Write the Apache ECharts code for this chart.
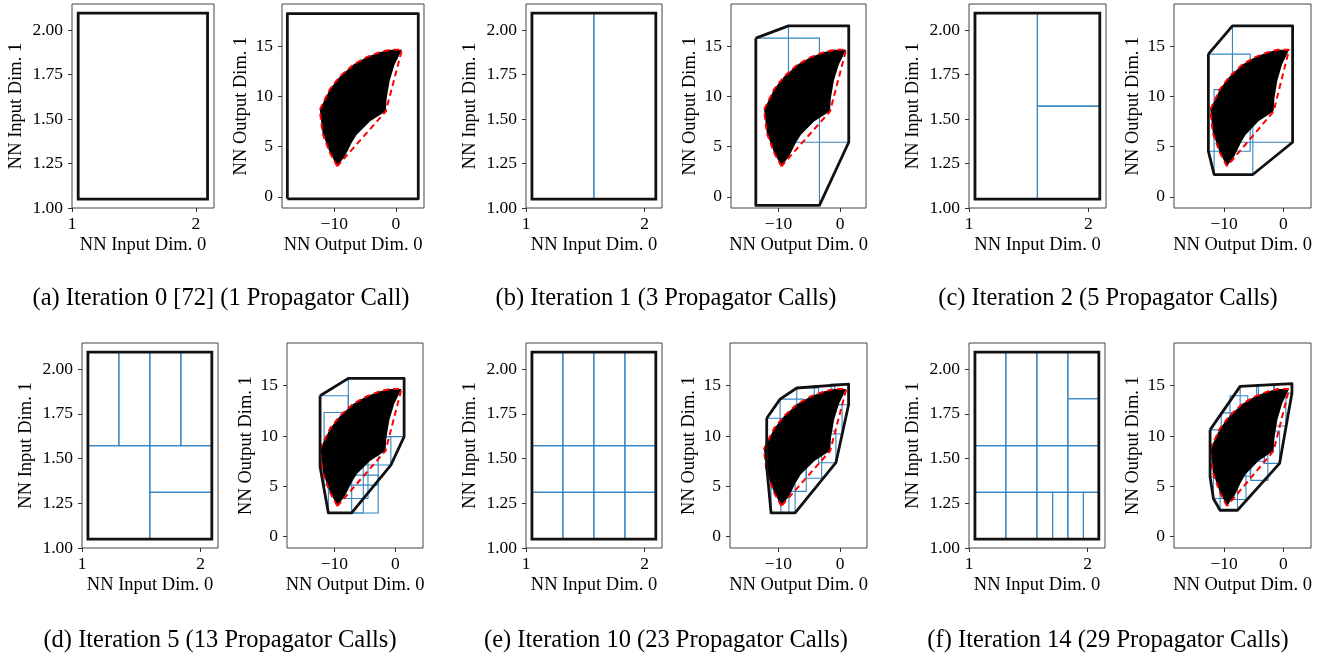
<!DOCTYPE html>
<html>
<head>
<meta charset="utf-8">
<script src="https://cdn.jsdelivr.net/npm/echarts@6/dist/echarts.min.js"></script>
<style>
  html, body { margin: 0; padding: 0; background: #fff; }
  #chart { width: 1329px; height: 658px; }
</style>
</head>
<body>
<div id="chart"></div>
<script>
// sampled NN outputs (drawn as a filled region) and their hull (red dashed)
const sampleCloud = [
  [-9.51, 3.05], [-10.7, 4.38], [-11.9, 6.37], [-12.34, 8.7], [-10.7, 10.75], [-9.08, 12.0],
  [-6.9, 13.2], [-4.73, 13.94], [-2.55, 14.44], [-0.92, 14.67], [0.98, 14.67], [-0.2, 13.2],
  [-1.0, 11.6], [-1.5, 9.8], [-1.63, 8.53], [-4.18, 7.53], [-6.36, 6.2], [-7.17, 5.38], [-8.26, 4.05]
];
const sampleHull = [
  [-9.51, 3.05], [-10.7, 4.38], [-11.9, 6.37], [-12.34, 8.7], [-10.7, 10.75], [-9.08, 12.0],
  [-6.9, 13.2], [-4.73, 13.94], [-2.55, 14.44], [-0.92, 14.67], [0.98, 14.67], [-1.63, 8.53]
];

// input set (black) and input partitions [x0, x1, y0, y1]
const inputDomain = [[1.05, 2.095, 1.05, 2.095]];
const inCellsA = [];
const inCellsB = [[1.05, 1.5725, 1.05, 2.095], [1.5725, 2.095, 1.05, 2.095]];
const inCellsC = [[1.05, 1.5725, 1.05, 2.095], [1.5725, 2.095, 1.5725, 2.095], [1.5725, 2.095, 1.05, 1.5725]];
const inCellsD = [
  [1.05, 1.311, 1.5725, 2.095], [1.311, 1.5725, 1.5725, 2.095], [1.5725, 1.834, 1.5725, 2.095], [1.834, 2.095, 1.5725, 2.095],
  [1.05, 1.5725, 1.05, 1.5725], [1.5725, 2.095, 1.311, 1.5725], [1.5725, 2.095, 1.05, 1.311]
];
const inCellsE = [
  [1.05, 1.311, 1.05, 1.311], [1.311, 1.5725, 1.05, 1.311], [1.5725, 1.834, 1.05, 1.311], [1.834, 2.095, 1.05, 1.311],
  [1.05, 1.311, 1.311, 1.5725], [1.311, 1.5725, 1.311, 1.5725], [1.5725, 1.834, 1.311, 1.5725], [1.834, 2.095, 1.311, 1.5725],
  [1.05, 1.311, 1.5725, 2.095], [1.311, 1.5725, 1.5725, 2.095], [1.5725, 1.834, 1.5725, 2.095], [1.834, 2.095, 1.5725, 2.095]
];
const inCellsF = [
  [1.05, 1.311, 1.05, 1.311], [1.311, 1.5725, 1.05, 1.311], [1.5725, 1.705, 1.05, 1.311], [1.705, 1.834, 1.05, 1.311],
  [1.834, 1.965, 1.05, 1.311], [1.965, 2.095, 1.05, 1.311],
  [1.05, 1.311, 1.311, 1.5725], [1.311, 1.5725, 1.311, 1.5725], [1.5725, 1.834, 1.311, 1.5725], [1.834, 2.095, 1.311, 1.5725],
  [1.05, 1.311, 1.5725, 2.095], [1.311, 1.5725, 1.5725, 2.095], [1.5725, 1.834, 1.5725, 2.095],
  [1.834, 2.095, 1.5725, 1.834], [1.834, 2.095, 1.834, 2.095]
];

// output reachable cells [x0, x1, y0, y1]
const outCellsA = [];
const outCellsB = [[-13.68, -3.35, -0.86, 15.83], [-8.38, 1.41, 5.44, 17.06]];
const outCellsC = [[-8.59, 1.58, 5.44, 17.06], [-12.66, -5.59, 4.55, 14.24], [-11.69, -5.14, 2.22, 10.69]];
const outCellsD = [
  [-12.34, -7.72, 6.95, 14.0], [-7.72, 1.41, 9.94, 15.73], [-11.68, -2.83, 5.12, 12.34], [-10.98, -5.27, 2.36, 7.12],
  [-5.27, -0.76, 7.12, 9.94], [-9.6, -4.5, 3.8, 9.0], [-7.17, -2.83, 2.36, 6.12]
];
const outCellsE = [
  [-11.89, -8.5, 6.95, 11.77], [-11.19, -8.3, 2.36, 7.0], [-9.73, -6.0, 9.5, 13.67], [-7.03, -3.5, 11.2, 14.77],
  [-4.2, -0.9, 12.5, 15.0], [-1.5, 1.35, 13.1, 15.16], [-8.5, -5.5, 4.5, 9.5], [-9.6, -7.3, 2.36, 5.2],
  [-5.5, -3.0, 5.8, 9.0], [-3.5, -0.7, 7.35, 10.5], [-2.5, 0.3, 10.2, 13.1], [-6.0, -2.5, 8.5, 12.0]
];
const outCellsF = [
  [-12.37, -9.8, 5.95, 10.61], [-11.81, -9.3, 3.79, 7.5], [-10.68, -7.74, 2.63, 5.5], [-10.5, -7.8, 8.5, 12.3],
  [-9.0, -6.0, 10.8, 14.0], [-7.29, -4.2, 12.0, 14.93], [-4.5, -1.5, 13.0, 15.1], [-1.6, 1.47, 14.27, 15.2],
  [-2.2, 0.45, 11.0, 14.0], [-3.2, -0.62, 7.28, 10.5], [-5.5, -2.6, 5.6, 8.6], [-8.6, -6.3, 3.7, 6.6],
  [-8.3, -5.6, 6.0, 9.3], [-6.0, -3.2, 7.5, 11.5], [-4.2, -1.6, 9.5, 13.0]
];

// output over-approximation (thick black)
const boundA = [[-17.6, -0.2], [3.63, -0.2], [3.63, 18.28], [-17.6, 18.28]];
const boundB = [[-13.68, 15.83], [-8.38, 17.06], [1.41, 17.06], [1.41, 5.44], [-3.35, -0.86], [-13.68, -0.86]];
const boundC = [[-12.66, 14.24], [-8.59, 17.06], [1.58, 17.06], [1.58, 5.44], [-5.14, 2.22], [-11.69, 2.22], [-12.66, 4.55]];
const boundD = [[-12.34, 14.0], [-7.72, 15.73], [1.41, 15.73], [1.41, 9.94], [-0.76, 7.12], [-7.17, 2.36], [-10.98, 2.36], [-12.34, 6.95]];
const boundE = [[-11.89, 11.77], [-9.73, 13.67], [-7.03, 14.77], [1.35, 15.16], [1.35, 13.1], [-0.7, 7.35], [-7.3, 2.36], [-11.19, 2.36], [-11.89, 6.95]];
const boundF = [[-12.37, 10.61], [-7.29, 14.93], [1.47, 15.2], [1.47, 14.27], [-0.62, 7.28], [-7.74, 2.63], [-10.68, 2.63], [-11.81, 3.79], [-12.37, 5.95]];

const captions = [
  '(a) Iteration 0 [72] (1 Propagator Call)',
  '(b) Iteration 1 (3 Propagator Calls)',
  '(c) Iteration 2 (5 Propagator Calls)',
  '(d) Iteration 5 (13 Propagator Calls)',
  '(e) Iteration 10 (23 Propagator Calls)',
  '(f) Iteration 14 (29 Propagator Calls)'
];
const inXTicks = [1, 2];
const inYTicks = [1.0, 1.25, 1.5, 1.75, 2.0];
const outXTicks = [-10, 0];
const outYTicks = [0, 5, 10, 15];

const FONT = '"Liberation Serif", "Times New Roman", "DejaVu Serif", serif';
const BLUE = '#3585c2';

// layout of the six panels (pixels)
const panels = [
  { inCells: inCellsA, outCells: outCellsA, bound: boundA, inL: 72, inW: 142, outL: 282, outW: 142, top: 4, h: 204, xMin: -18.47, xMax: 4.56, capX: 221, capY: 299 },
  { inCells: inCellsB, outCells: outCellsB, bound: boundB, inL: 526, inW: 136, outL: 731, outW: 135, top: 4, h: 204, xMin: -17.71, xMax: 4.21, capX: 666, capY: 299 },
  { inCells: inCellsC, outCells: outCellsC, bound: boundC, inL: 969, inW: 137, outL: 1174, outW: 137, top: 4, h: 204, xMin: -18.47, xMax: 4.69, capX: 1108, capY: 299 },
  { inCells: inCellsD, outCells: outCellsD, bound: boundD, inL: 82, inW: 136, outL: 287, outW: 136, top: 343, h: 205, xMin: -17.75, xMax: 4.5, capX: 220, capY: 641 },
  { inCells: inCellsE, outCells: outCellsE, bound: boundE, inL: 526, inW: 136, outL: 730, outW: 137, top: 343, h: 205, xMin: -17.83, xMax: 4.33, capX: 666, capY: 641 },
  { inCells: inCellsF, outCells: outCellsF, bound: boundF, inL: 969, inW: 136, outL: 1174, outW: 137, top: 343, h: 205, xMin: -18.47, xMax: 4.69, capX: 1108, capY: 641 }
];

function minus(v) {
  return v < 0 ? '\u2212' + Math.abs(v) : String(v);
}

function rectRender(color, width) {
  return function (params, api) {
    const p0 = api.coord([api.value(0), api.value(3)]);
    const p1 = api.coord([api.value(1), api.value(2)]);
    return {
      type: 'rect',
      shape: { x: p0[0], y: p0[1], width: p1[0] - p0[0], height: p1[1] - p0[1] },
      style: { fill: 'none', stroke: color, lineWidth: width }
    };
  };
}

function axisCommon(ticks, fmt, margin) {
  return {
    type: 'value',
    axisLine: { show: false, onZero: false },
    axisTick: { show: true, inside: false, length: 4, customValues: ticks, lineStyle: { color: '#333', width: 1 } },
    axisLabel: { customValues: ticks, color: '#000', fontFamily: FONT, fontSize: 17.5, margin: margin, formatter: fmt },
    splitLine: { show: false },
    nameLocation: 'middle',
    nameTextStyle: { color: '#000', fontFamily: FONT, fontSize: 18.5 }
  };
}

const grid = [], xAxis = [], yAxis = [], series = [], graphic = [];

panels.forEach(function (p, i) {
  const gi = 2 * i, go = 2 * i + 1;
  grid.push({ left: p.inL, top: p.top, width: p.inW, height: p.h, show: true, borderColor: '#444', borderWidth: 1 });
  grid.push({ left: p.outL, top: p.top, width: p.outW, height: p.h, show: true, borderColor: '#444', borderWidth: 1 });

  xAxis.push(Object.assign(axisCommon(inXTicks, v => String(v), 7), { gridIndex: gi, min: 1.0, max: 2.147, name: 'NN Input Dim. 0', nameGap: 28 }));
  yAxis.push(Object.assign(axisCommon(inYTicks, v => v.toFixed(2), 9), { gridIndex: gi, min: 1.0, max: 2.146, name: 'NN Input Dim. 1', nameGap: 46 }));
  xAxis.push(Object.assign(axisCommon(outXTicks, minus, 7), { gridIndex: go, min: p.xMin, max: p.xMax, name: 'NN Output Dim. 0', nameGap: 28 }));
  yAxis.push(Object.assign(axisCommon(outYTicks, minus, 9), { gridIndex: go, min: -1.12, max: 19.24, name: 'NN Output Dim. 1', nameGap: 31 }));

  // input side
  series.push({ type: 'custom', xAxisIndex: gi, yAxisIndex: gi, data: p.inCells, encode: { x: [0, 1], y: [2, 3] }, renderItem: rectRender(BLUE, 1.1), z: 2, silent: true });
  series.push({ type: 'custom', xAxisIndex: gi, yAxisIndex: gi, data: inputDomain, encode: { x: [0, 1], y: [2, 3] }, renderItem: rectRender('#111', 2.8), z: 3, silent: true });

  // output side
  series.push({ type: 'custom', xAxisIndex: go, yAxisIndex: go, data: p.outCells, encode: { x: [0, 1], y: [2, 3] }, renderItem: rectRender(BLUE, 1.1), z: 2, silent: true });
  series.push({
    type: 'custom', xAxisIndex: go, yAxisIndex: go, data: sampleCloud, encode: { x: 0, y: 1 }, z: 3, silent: true,
    renderItem: function (params, api) {
      if (params.dataIndex !== 0) return null;
      return { type: 'polygon', shape: { points: sampleCloud.map(pt => api.coord(pt)) }, style: { fill: '#000' } };
    }
  });
  series.push({
    type: 'line', xAxisIndex: go, yAxisIndex: go, data: sampleHull.concat([sampleHull[0]]), showSymbol: false, symbol: 'none',
    lineStyle: { color: '#f00', width: 2, type: [6, 4] }, z: 4, silent: true
  });
  series.push({
    type: 'line', xAxisIndex: go, yAxisIndex: go, data: p.bound.concat([p.bound[0]]), showSymbol: false, symbol: 'none',
    lineStyle: { color: '#111', width: 2.8, join: 'round' }, z: 5, silent: true
  });

  graphic.push({
    type: 'text', x: p.capX, y: p.capY,
    style: { text: captions[i], fill: '#000', fontFamily: FONT, fontSize: 24.5, align: 'center', verticalAlign: 'middle' }
  });
});

const chart = echarts.init(document.getElementById('chart'));
chart.setOption({
  animation: false,
  backgroundColor: '#fff',
  grid: grid,
  xAxis: xAxis,
  yAxis: yAxis,
  series: series,
  graphic: graphic
});
</script>
</body>
</html>
